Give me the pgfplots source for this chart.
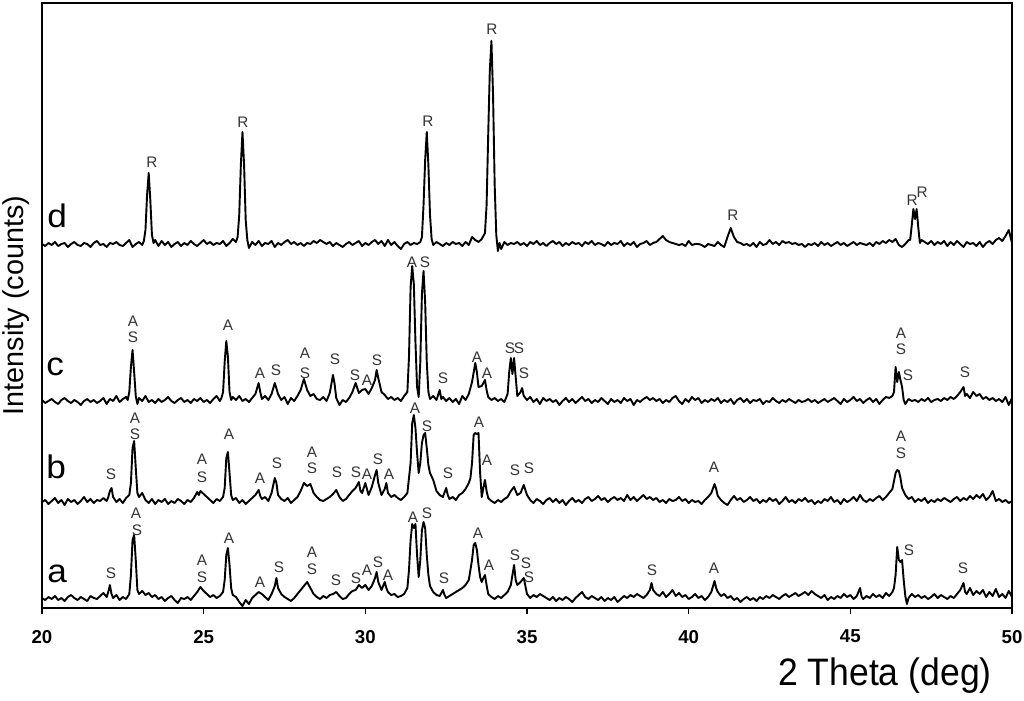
\documentclass[border=0pt]{standalone}
\usepackage{fontspec}
\setmainfont{Liberation Sans}
\newfontfamily\widefont[FakeStretch=1.08]{Liberation Sans}
\newfontfamily\xlabfont[FakeStretch=0.93]{Liberation Sans}
\usepackage{pgfplots}
\pgfplotsset{compat=1.18}

\tikzset{
    tr/.style={black, line width=0.85pt, line join=round, mark=none},
    pklab/.style={font=\fontsize{6.8}{7}\selectfont, text=black!80, inner sep=0pt},
    trlab/.style={font=\widefont\fontsize{14.5}{16}\selectfont, anchor=base west, inner sep=0pt},
}

% peak label, placed by picture pixel position (x px, y px)
\newcommand\pk[3]{\node[pklab] at (axis cs:{20+(#1-42)/32.333},{608-#2}) {#3};}
\newcommand\trace[3]{\node[trlab] at (axis cs:{20+(#1-42)/32.333},{608-#2}) {#3};}

\begin{document}
\begin{tikzpicture}
\useasboundingbox (-0.65625cm,-1.4375cm) rectangle (15.34375cm,9.5cm);
\begin{axis}[
    at={(0,0)}, anchor=south west,
    scale only axis, width=15.15625cm, height=9.453125cm,
    xmin=20, xmax=50, ymin=0, ymax=605,
    xtick={20,25,...,50}, ytick=\empty,
    xtick pos=bottom, tick align=outside,
    major tick length=0.09cm,
    axis line style={line width=1pt},
    every tick/.style={black, line width=0.6pt},
    /pgf/number format/assume math mode=true,
    xticklabel style={font=\fontsize{8.3}{10}\selectfont\bfseries, yshift=-0.13cm},
    xlabel={\xlabfont 2 Theta (deg)},
    xlabel style={font=\fontsize{17}{20}\selectfont, at={(axis description cs:0.869,-0.111)}, anchor=center},
    ylabel={Intensity (counts)},
    ylabel style={font=\fontsize{12.8}{15}\selectfont, at={(axis description cs:-0.027,0.5)}, anchor=center, rotate=0},
    clip=false,
]
% d
\addplot[tr] table[row sep=\\, y expr=\thisrowno{1}+363] {
20.0 1\\ 20.1 -1\\ 20.2 2\\ 20.3 0\\ 20.4 3\\ 20.5 -1\\ 20.6 1\\ 20.7 2\\ 20.8 -2\\ 20.9 1\\
21.0 3\\ 21.1 0\\ 21.2 -1\\ 21.3 2\\ 21.4 1\\ 21.5 -2\\ 21.6 2\\ 21.7 4\\ 21.8 0\\ 21.9 1\\
22.0 -2\\ 22.1 2\\ 22.2 1\\ 22.3 3\\ 22.4 0\\ 22.5 -1\\ 22.6 2\\ 22.7 5\\ 22.8 -2\\ 22.9 1\\
23.0 3\\ 23.1 0\\ 23.15 4\\ 23.2 15\\ 23.25 50\\ 23.3 72\\ 23.35 45\\ 23.4 10\\ 23.45 2\\ 23.5 5\\
23.6 -1\\ 23.7 4\\ 23.8 0\\ 23.9 3\\ 24.0 -2\\ 24.1 1\\ 24.2 3\\ 24.3 -1\\ 24.4 2\\ 24.5 0\\
24.6 4\\ 24.7 1\\ 24.8 -1\\ 24.9 2\\ 25.0 5\\ 25.1 1\\ 25.2 3\\ 25.3 0\\ 25.4 2\\ 25.5 1\\
25.6 4\\ 25.7 -1\\ 25.8 2\\ 25.9 6\\ 26.0 3\\ 26.05 8\\ 26.1 30\\ 26.15 80\\ 26.2 113\\ 26.25 80\\
26.3 25\\ 26.35 5\\ 26.4 -3\\ 26.5 3\\ 26.6 0\\ 26.7 4\\ 26.8 -1\\ 26.9 2\\ 27.0 1\\ 27.1 4\\
27.2 -2\\ 27.3 2\\ 27.4 0\\ 27.5 3\\ 27.6 5\\ 27.7 1\\ 27.8 3\\ 27.9 0\\ 28.0 2\\ 28.1 -1\\
28.2 2\\ 28.3 1\\ 28.4 4\\ 28.5 2\\ 28.6 5\\ 28.7 3\\ 28.8 1\\ 28.9 3\\ 29.0 -1\\ 29.1 2\\
29.2 0\\ 29.3 -2\\ 29.4 1\\ 29.5 3\\ 29.6 0\\ 29.7 2\\ 29.8 4\\ 29.9 -1\\ 30.0 2\\ 30.1 0\\
30.2 3\\ 30.3 5\\ 30.4 1\\ 30.5 4\\ 30.6 -1\\ 30.7 5\\ 30.8 0\\ 30.9 3\\ 31.0 -1\\ 31.1 -4\\
31.2 1\\ 31.3 3\\ 31.4 0\\ 31.5 2\\ 31.6 1\\ 31.7 3\\ 31.75 8\\ 31.8 40\\ 31.85 85\\ 31.9 113\\
31.95 80\\ 32.0 30\\ 32.05 6\\ 32.1 0\\ 32.2 3\\ 32.3 1\\ 32.4 -1\\ 32.5 2\\ 32.6 0\\ 32.7 3\\
32.8 1\\ 32.9 2\\ 33.0 -1\\ 33.1 3\\ 33.2 0\\ 33.3 8\\ 33.4 5\\ 33.5 3\\ 33.6 6\\ 33.7 12\\
33.75 40\\ 33.8 110\\ 33.85 175\\ 33.9 204\\ 33.95 150\\ 34.0 60\\ 34.05 10\\ 34.1 -6\\ 34.15 2\\ 34.2 -4\\
34.3 3\\ 34.4 0\\ 34.5 2\\ 34.6 1\\ 34.7 3\\ 34.8 0\\ 34.9 2\\ 35.0 -1\\ 35.1 3\\ 35.2 1\\
35.3 4\\ 35.4 0\\ 35.5 2\\ 35.6 -1\\ 35.7 2\\ 35.8 4\\ 35.9 1\\ 36.0 3\\ 36.1 -1\\ 36.2 2\\
36.3 0\\ 36.4 3\\ 36.5 1\\ 36.6 2\\ 36.7 -1\\ 36.8 3\\ 36.9 1\\ 37.0 4\\ 37.1 0\\ 37.2 2\\
37.3 1\\ 37.4 -1\\ 37.5 3\\ 37.6 0\\ 37.7 2\\ 37.8 1\\ 37.9 4\\ 38.0 -1\\ 38.1 2\\ 38.2 0\\
38.3 3\\ 38.4 -2\\ 38.5 1\\ 38.6 2\\ 38.7 4\\ 38.8 0\\ 38.9 2\\ 39.0 3\\ 39.1 6\\ 39.2 9\\
39.3 5\\ 39.4 3\\ 39.5 2\\ 39.6 1\\ 39.7 0\\ 39.8 1\\ 39.9 -1\\ 40.0 4\\ 40.1 0\\ 40.2 1\\
40.3 1\\ 40.4 0\\ 40.5 -2\\ 40.6 1\\ 40.7 0\\ 40.8 -1\\ 40.9 3\\ 41.0 0\\ 41.1 -2\\ 41.2 8\\
41.3 17\\ 41.4 8\\ 41.5 3\\ 41.6 2\\ 41.7 0\\ 41.8 1\\ 41.9 -1\\ 42.0 2\\ 42.1 -2\\ 42.2 3\\
42.3 0\\ 42.4 1\\ 42.5 5\\ 42.6 1\\ 42.7 3\\ 42.8 0\\ 42.9 4\\ 43.0 2\\ 43.1 3\\ 43.2 1\\
43.3 2\\ 43.4 0\\ 43.5 1\\ 43.6 -2\\ 43.7 1\\ 43.8 0\\ 43.9 2\\ 44.0 -1\\ 44.1 3\\ 44.2 0\\
44.3 2\\ 44.4 -1\\ 44.5 1\\ 44.6 3\\ 44.7 0\\ 44.8 2\\ 44.9 -1\\ 45.0 1\\ 45.1 3\\ 45.2 0\\
45.3 2\\ 45.4 1\\ 45.5 0\\ 45.6 2\\ 45.7 -1\\ 45.8 3\\ 45.9 1\\ 46.0 4\\ 46.1 2\\ 46.2 5\\
46.3 3\\ 46.4 6\\ 46.5 0\\ 46.6 -2\\ 46.7 1\\ 46.8 5\\ 46.85 5\\ 46.9 20\\ 46.95 36\\ 47.0 26\\
47.05 36\\ 47.1 18\\ 47.15 2\\ 47.2 5\\ 47.3 3\\ 47.4 1\\ 47.5 4\\ 47.6 0\\ 47.7 3\\ 47.8 1\\
47.9 4\\ 48.0 -1\\ 48.1 3\\ 48.2 0\\ 48.3 4\\ 48.4 1\\ 48.5 -2\\ 48.6 3\\ 48.7 1\\ 48.8 2\\
48.9 -1\\ 49.0 3\\ 49.1 -2\\ 49.2 2\\ 49.3 4\\ 49.4 1\\ 49.5 5\\ 49.6 7\\ 49.7 4\\ 49.8 9\\
49.9 15\\ 50.0 2\\
};
% c
\addplot[tr] table[row sep=\\, y expr=\thisrowno{1}+206] {
20.0 2\\ 20.1 -1\\ 20.2 1\\ 20.3 3\\ 20.4 0\\ 20.5 -2\\ 20.6 2\\ 20.7 4\\ 20.8 1\\ 20.9 -1\\
21.0 2\\ 21.1 0\\ 21.2 -3\\ 21.3 1\\ 21.4 3\\ 21.5 0\\ 21.6 2\\ 21.7 -1\\ 21.8 1\\ 21.9 4\\
22.0 -2\\ 22.1 3\\ 22.2 1\\ 22.3 6\\ 22.4 0\\ 22.5 3\\ 22.6 5\\ 22.65 2\\ 22.7 10\\ 22.75 35\\
22.8 52\\ 22.85 30\\ 22.9 6\\ 22.95 -2\\ 23.0 4\\ 23.1 1\\ 23.2 6\\ 23.3 0\\ 23.4 2\\ 23.5 -1\\
23.6 3\\ 23.7 0\\ 23.8 2\\ 23.9 5\\ 24.0 1\\ 24.1 -1\\ 24.2 2\\ 24.3 4\\ 24.4 0\\ 24.5 2\\
24.6 -1\\ 24.7 3\\ 24.8 1\\ 24.9 4\\ 25.0 0\\ 25.1 2\\ 25.2 -1\\ 25.3 3\\ 25.4 6\\ 25.5 1\\
25.55 4\\ 25.6 10\\ 25.65 40\\ 25.7 61\\ 25.75 45\\ 25.8 10\\ 25.85 2\\ 25.9 5\\ 26.0 2\\ 26.1 6\\
26.2 1\\ 26.3 3\\ 26.4 0\\ 26.5 4\\ 26.6 8\\ 26.7 19\\ 26.75 10\\ 26.8 3\\ 26.9 6\\ 27.0 2\\
27.1 8\\ 27.2 19\\ 27.3 8\\ 27.4 2\\ 27.5 5\\ 27.6 -2\\ 27.7 4\\ 27.8 1\\ 27.9 6\\ 28.0 12\\
28.1 23\\ 28.2 12\\ 28.3 6\\ 28.4 8\\ 28.5 3\\ 28.6 2\\ 28.7 5\\ 28.8 1\\ 28.9 9\\ 29.0 27\\
29.05 18\\ 29.1 4\\ 29.2 -3\\ 29.3 2\\ 29.4 0\\ 29.5 4\\ 29.6 10\\ 29.7 19\\ 29.8 9\\ 29.9 12\\
30.0 13\\ 30.1 8\\ 30.2 14\\ 30.3 22\\ 30.35 32\\ 30.4 24\\ 30.5 10\\ 30.6 7\\ 30.7 3\\ 30.8 5\\
30.9 2\\ 31.0 4\\ 31.1 1\\ 31.2 6\\ 31.3 10\\ 31.35 45\\ 31.4 115\\ 31.45 136\\ 31.5 118\\ 31.55 60\\
31.6 15\\ 31.65 5\\ 31.7 40\\ 31.75 108\\ 31.8 131\\ 31.85 100\\ 31.9 40\\ 31.95 10\\ 32.0 3\\ 32.1 6\\
32.2 2\\ 32.3 12\\ 32.35 3\\ 32.4 5\\ 32.5 1\\ 32.6 4\\ 32.7 0\\ 32.8 3\\ 32.9 -2\\ 33.0 6\\
33.1 2\\ 33.2 8\\ 33.3 20\\ 33.4 39\\ 33.45 30\\ 33.5 15\\ 33.6 16\\ 33.7 22\\ 33.75 12\\ 33.8 5\\
33.9 2\\ 34.0 4\\ 34.1 1\\ 34.2 3\\ 34.3 0\\ 34.4 8\\ 34.45 30\\ 34.5 44\\ 34.55 28\\ 34.6 44\\
34.65 25\\ 34.7 6\\ 34.8 10\\ 34.85 14\\ 34.9 6\\ 35.0 2\\ 35.1 5\\ 35.2 0\\ 35.3 3\\ 35.4 -2\\
35.5 4\\ 35.6 1\\ 35.7 3\\ 35.8 0\\ 35.9 2\\ 36.0 -3\\ 36.1 1\\ 36.2 4\\ 36.3 0\\ 36.4 3\\
36.5 -1\\ 36.6 2\\ 36.7 5\\ 36.8 1\\ 36.9 3\\ 37.0 -1\\ 37.1 2\\ 37.2 0\\ 37.3 4\\ 37.4 1\\
37.5 -2\\ 37.6 3\\ 37.7 0\\ 37.8 2\\ 37.9 -1\\ 38.0 4\\ 38.1 1\\ 38.2 3\\ 38.3 -3\\ 38.4 2\\
38.5 0\\ 38.6 3\\ 38.7 5\\ 38.8 2\\ 38.9 4\\ 39.0 1\\ 39.1 3\\ 39.2 -1\\ 39.3 2\\ 39.4 0\\
39.5 4\\ 39.6 6\\ 39.7 1\\ 39.8 -2\\ 39.9 3\\ 40.0 0\\ 40.1 5\\ 40.2 2\\ 40.3 4\\ 40.4 -1\\
40.5 2\\ 40.6 0\\ 40.7 3\\ 40.8 1\\ 40.9 4\\ 41.0 -1\\ 41.1 2\\ 41.2 0\\ 41.3 3\\ 41.4 -2\\
41.5 2\\ 41.6 4\\ 41.7 0\\ 41.8 3\\ 41.9 -1\\ 42.0 2\\ 42.1 1\\ 42.2 3\\ 42.3 -2\\ 42.4 1\\
42.5 0\\ 42.6 4\\ 42.7 1\\ 42.8 -1\\ 42.9 2\\ 43.0 0\\ 43.1 3\\ 43.2 1\\ 43.3 -1\\ 43.4 2\\
43.5 0\\ 43.6 1\\ 43.7 3\\ 43.8 0\\ 43.9 2\\ 44.0 -1\\ 44.1 1\\ 44.2 3\\ 44.3 0\\ 44.4 2\\
44.5 4\\ 44.6 1\\ 44.7 -2\\ 44.8 3\\ 44.9 0\\ 45.0 2\\ 45.1 5\\ 45.2 1\\ 45.3 3\\ 45.4 -1\\
45.5 2\\ 45.6 4\\ 45.7 0\\ 45.8 3\\ 45.9 -2\\ 46.0 2\\ 46.1 5\\ 46.2 4\\ 46.3 6\\ 46.35 10\\
46.4 35\\ 46.45 20\\ 46.5 30\\ 46.55 22\\ 46.6 15\\ 46.65 2\\ 46.7 -2\\ 46.8 3\\ 46.9 1\\ 47.0 2\\
47.1 0\\ 47.2 3\\ 47.3 1\\ 47.4 4\\ 47.5 0\\ 47.6 2\\ 47.7 3\\ 47.8 1\\ 47.9 4\\ 48.0 2\\
48.1 5\\ 48.2 3\\ 48.3 6\\ 48.4 10\\ 48.5 15\\ 48.55 6\\ 48.6 8\\ 48.7 4\\ 48.8 10\\ 48.9 6\\
49.0 8\\ 49.1 3\\ 49.2 5\\ 49.3 2\\ 49.4 4\\ 49.5 1\\ 49.6 3\\ 49.7 0\\ 49.8 5\\ 49.9 -3\\
50.0 4\\
};
% b
\addplot[tr] table[row sep=\\, y expr=\thisrowno{1}+105] {
20.0 1\\ 20.1 3\\ 20.2 -1\\ 20.3 2\\ 20.4 5\\ 20.5 0\\ 20.6 3\\ 20.7 -2\\ 20.8 4\\ 20.9 1\\
21.0 3\\ 21.1 -1\\ 21.2 2\\ 21.3 6\\ 21.4 1\\ 21.5 4\\ 21.6 0\\ 21.7 3\\ 21.8 2\\ 21.9 5\\
22.0 2\\ 22.05 6\\ 22.1 12\\ 22.15 15\\ 22.2 6\\ 22.3 1\\ 22.4 4\\ 22.5 0\\ 22.6 5\\ 22.7 8\\
22.75 20\\ 22.8 55\\ 22.85 62\\ 22.9 35\\ 22.95 10\\ 23.0 6\\ 23.1 10\\ 23.2 3\\ 23.3 0\\ 23.4 4\\
23.5 -1\\ 23.6 3\\ 23.7 1\\ 23.8 4\\ 23.9 -1\\ 24.0 2\\ 24.1 0\\ 24.2 4\\ 24.3 2\\ 24.4 -1\\
24.5 3\\ 24.6 1\\ 24.7 5\\ 24.8 11\\ 24.85 8\\ 24.9 12\\ 25.0 9\\ 25.1 6\\ 25.2 3\\ 25.3 0\\
25.4 4\\ 25.5 2\\ 25.6 6\\ 25.65 15\\ 25.7 45\\ 25.75 51\\ 25.8 30\\ 25.85 8\\ 25.9 3\\ 26.0 5\\
26.1 0\\ 26.2 3\\ 26.3 -1\\ 26.4 2\\ 26.5 5\\ 26.6 8\\ 26.7 13\\ 26.75 7\\ 26.8 4\\ 26.9 6\\
27.0 2\\ 27.1 10\\ 27.2 25\\ 27.25 20\\ 27.3 8\\ 27.4 4\\ 27.5 2\\ 27.6 5\\ 27.7 0\\ 27.8 3\\
27.9 6\\ 28.0 12\\ 28.1 20\\ 28.2 17\\ 28.3 19\\ 28.4 10\\ 28.5 6\\ 28.6 3\\ 28.7 2\\ 28.8 4\\
28.9 6\\ 29.0 9\\ 29.1 13\\ 29.2 6\\ 29.3 2\\ 29.4 4\\ 29.5 8\\ 29.6 12\\ 29.7 15\\ 29.8 21\\
29.85 12\\ 29.9 10\\ 30.0 20\\ 30.1 8\\ 30.2 16\\ 30.3 28\\ 30.35 33\\ 30.4 20\\ 30.5 8\\ 30.6 14\\
30.65 20\\ 30.7 10\\ 30.8 6\\ 30.9 8\\ 31.0 5\\ 31.1 3\\ 31.2 6\\ 31.3 10\\ 31.4 40\\ 31.45 80\\
31.5 88\\ 31.55 75\\ 31.6 50\\ 31.65 30\\ 31.7 40\\ 31.75 60\\ 31.8 68\\ 31.85 70\\ 31.9 55\\ 31.95 38\\
32.0 30\\ 32.1 23\\ 32.2 12\\ 32.3 8\\ 32.4 6\\ 32.5 15\\ 32.55 8\\ 32.6 4\\ 32.7 6\\ 32.8 3\\
32.9 8\\ 33.0 10\\ 33.1 14\\ 33.2 20\\ 33.25 25\\ 33.3 40\\ 33.35 68\\ 33.4 70\\ 33.45 69\\ 33.5 70\\
33.55 30\\ 33.6 6\\ 33.65 15\\ 33.7 23\\ 33.75 12\\ 33.8 5\\ 33.9 2\\ 34.0 0\\ 34.1 3\\ 34.2 1\\
34.3 4\\ 34.4 6\\ 34.5 12\\ 34.6 16\\ 34.7 8\\ 34.8 10\\ 34.9 18\\ 35.0 8\\ 35.1 3\\ 35.2 0\\
35.3 4\\ 35.4 2\\ 35.5 -1\\ 35.6 3\\ 35.7 5\\ 35.8 1\\ 35.9 4\\ 36.0 0\\ 36.1 3\\ 36.2 -2\\
36.3 2\\ 36.4 5\\ 36.5 1\\ 36.6 3\\ 36.7 0\\ 36.8 4\\ 36.9 6\\ 37.0 2\\ 37.1 4\\ 37.2 7\\
37.3 3\\ 37.4 5\\ 37.5 1\\ 37.6 4\\ 37.7 6\\ 37.8 3\\ 37.9 5\\ 38.0 2\\ 38.1 8\\ 38.2 3\\
38.3 6\\ 38.4 2\\ 38.5 5\\ 38.6 8\\ 38.7 4\\ 38.8 6\\ 38.9 3\\ 39.0 5\\ 39.1 1\\ 39.2 3\\
39.3 0\\ 39.4 4\\ 39.5 2\\ 39.6 3\\ 39.7 6\\ 39.8 2\\ 39.9 4\\ 40.0 0\\ 40.1 3\\ 40.2 1\\
40.3 2\\ 40.4 -1\\ 40.5 3\\ 40.6 6\\ 40.7 10\\ 40.8 19\\ 40.85 14\\ 40.9 7\\ 41.0 3\\ 41.1 0\\
41.2 -2\\ 41.3 3\\ 41.4 7\\ 41.5 3\\ 41.6 5\\ 41.7 1\\ 41.8 3\\ 41.9 6\\ 42.0 2\\ 42.1 4\\
42.2 0\\ 42.3 3\\ 42.4 1\\ 42.5 5\\ 42.6 2\\ 42.7 4\\ 42.8 -1\\ 42.9 2\\ 43.0 6\\ 43.1 1\\
43.2 3\\ 43.3 0\\ 43.4 4\\ 43.5 2\\ 43.6 5\\ 43.7 1\\ 43.8 3\\ 43.9 -1\\ 44.0 2\\ 44.1 0\\
44.2 4\\ 44.3 2\\ 44.4 6\\ 44.5 1\\ 44.6 3\\ 44.7 -1\\ 44.8 4\\ 44.9 1\\ 45.0 3\\ 45.1 6\\
45.2 2\\ 45.3 8\\ 45.4 3\\ 45.5 1\\ 45.6 4\\ 45.7 2\\ 45.8 5\\ 45.9 7\\ 46.0 3\\ 46.1 6\\
46.2 10\\ 46.3 14\\ 46.35 22\\ 46.4 30\\ 46.45 33\\ 46.5 32\\ 46.55 25\\ 46.6 15\\ 46.7 8\\ 46.8 4\\
46.9 6\\ 47.0 1\\ 47.1 4\\ 47.2 2\\ 47.3 5\\ 47.4 0\\ 47.5 3\\ 47.6 1\\ 47.7 4\\ 47.8 2\\
47.9 5\\ 48.0 3\\ 48.1 1\\ 48.2 4\\ 48.3 6\\ 48.4 2\\ 48.5 5\\ 48.6 3\\ 48.7 7\\ 48.8 4\\
48.9 8\\ 49.0 5\\ 49.1 9\\ 49.2 3\\ 49.3 6\\ 49.4 12\\ 49.5 2\\ 49.6 4\\ 49.7 1\\ 49.8 3\\
49.9 0\\ 50.0 2\\
};
% a
\addplot[tr] table[row sep=\\, y expr=\thisrowno{1}+8] {
20.0 2\\ 20.1 0\\ 20.2 3\\ 20.3 1\\ 20.4 4\\ 20.5 0\\ 20.6 2\\ 20.7 -1\\ 20.8 3\\ 20.9 5\\
21.0 2\\ 21.1 0\\ 21.2 3\\ 21.3 1\\ 21.4 -1\\ 21.5 4\\ 21.6 2\\ 21.7 1\\ 21.8 4\\ 21.9 7\\
22.0 3\\ 22.05 8\\ 22.1 15\\ 22.15 6\\ 22.2 2\\ 22.3 5\\ 22.4 0\\ 22.5 3\\ 22.6 1\\ 22.7 6\\
22.75 25\\ 22.8 60\\ 22.85 65\\ 22.9 40\\ 22.95 10\\ 23.0 6\\ 23.1 9\\ 23.2 5\\ 23.3 7\\ 23.4 3\\
23.5 5\\ 23.6 1\\ 23.7 3\\ 23.8 -1\\ 23.9 2\\ 24.0 4\\ 24.1 0\\ 24.2 -3\\ 24.3 2\\ 24.4 1\\
24.5 3\\ 24.6 0\\ 24.7 4\\ 24.8 8\\ 24.9 13\\ 25.0 9\\ 25.1 6\\ 25.2 3\\ 25.3 5\\ 25.4 2\\
25.5 4\\ 25.6 8\\ 25.65 20\\ 25.7 45\\ 25.75 52\\ 25.8 35\\ 25.85 12\\ 25.9 5\\ 26.0 3\\ 26.1 -2\\
26.2 -6\\ 26.3 0\\ 26.4 -4\\ 26.5 2\\ 26.6 5\\ 26.7 8\\ 26.8 6\\ 26.9 3\\ 27.0 0\\ 27.1 6\\
27.2 14\\ 27.25 22\\ 27.3 12\\ 27.4 6\\ 27.5 3\\ 27.6 1\\ 27.7 -1\\ 27.8 2\\ 27.9 6\\ 28.0 10\\
28.1 14\\ 28.2 18\\ 28.3 12\\ 28.4 6\\ 28.5 3\\ 28.6 1\\ 28.7 4\\ 28.8 2\\ 28.9 5\\ 29.0 6\\
29.1 8\\ 29.2 4\\ 29.3 1\\ 29.4 2\\ 29.5 6\\ 29.6 9\\ 29.7 10\\ 29.8 15\\ 29.9 12\\ 30.0 15\\
30.1 10\\ 30.2 14\\ 30.3 22\\ 30.35 28\\ 30.4 18\\ 30.5 10\\ 30.6 18\\ 30.65 12\\ 30.7 8\\ 30.8 5\\
30.9 6\\ 31.0 3\\ 31.1 4\\ 31.2 6\\ 31.3 12\\ 31.35 30\\ 31.4 60\\ 31.45 76\\ 31.5 72\\ 31.55 76\\
31.6 45\\ 31.65 23\\ 31.7 40\\ 31.75 70\\ 31.8 78\\ 31.85 72\\ 31.9 45\\ 31.95 25\\ 32.0 14\\ 32.1 8\\
32.2 5\\ 32.3 4\\ 32.4 10\\ 32.45 5\\ 32.5 2\\ 32.6 4\\ 32.7 6\\ 32.8 8\\ 32.9 10\\ 33.0 12\\
33.1 15\\ 33.2 20\\ 33.3 40\\ 33.35 55\\ 33.4 57\\ 33.45 50\\ 33.5 35\\ 33.55 23\\ 33.6 18\\ 33.65 22\\
33.7 25\\ 33.75 15\\ 33.8 6\\ 33.9 3\\ 34.0 1\\ 34.1 4\\ 34.2 2\\ 34.3 5\\ 34.4 8\\ 34.5 15\\
34.55 25\\ 34.6 35\\ 34.65 20\\ 34.7 15\\ 34.8 18\\ 34.85 20\\ 34.9 22\\ 34.95 14\\ 35.0 6\\ 35.1 2\\
35.2 5\\ 35.3 3\\ 35.4 6\\ 35.5 4\\ 35.6 2\\ 35.7 0\\ 35.8 3\\ 35.9 -1\\ 36.0 2\\ 36.1 0\\
36.2 3\\ 36.3 1\\ 36.4 -2\\ 36.5 2\\ 36.6 5\\ 36.7 8\\ 36.8 3\\ 36.9 1\\ 37.0 4\\ 37.1 2\\
37.2 0\\ 37.3 3\\ 37.4 -1\\ 37.5 2\\ 37.6 0\\ 37.7 3\\ 37.8 -2\\ 37.9 1\\ 38.0 4\\ 38.1 2\\
38.2 5\\ 38.3 3\\ 38.4 6\\ 38.5 4\\ 38.6 2\\ 38.7 5\\ 38.8 10\\ 38.85 17\\ 38.9 10\\ 39.0 6\\
39.1 4\\ 39.2 8\\ 39.3 3\\ 39.4 6\\ 39.5 10\\ 39.6 4\\ 39.7 7\\ 39.8 3\\ 39.9 5\\ 40.0 1\\
40.1 3\\ 40.2 6\\ 40.3 2\\ 40.4 4\\ 40.5 0\\ 40.6 3\\ 40.7 8\\ 40.8 19\\ 40.85 12\\ 40.9 8\\
41.0 4\\ 41.1 6\\ 41.2 2\\ 41.3 4\\ 41.4 0\\ 41.5 2\\ 41.6 -2\\ 41.7 1\\ 41.8 3\\ 41.9 0\\
42.0 2\\ 42.1 -1\\ 42.2 3\\ 42.3 1\\ 42.4 4\\ 42.5 2\\ 42.6 5\\ 42.7 3\\ 42.8 1\\ 42.9 4\\
43.0 6\\ 43.1 3\\ 43.2 5\\ 43.3 7\\ 43.4 4\\ 43.5 6\\ 43.6 8\\ 43.7 5\\ 43.8 9\\ 43.9 6\\
44.0 4\\ 44.1 2\\ 44.2 5\\ 44.3 0\\ 44.4 3\\ 44.5 1\\ 44.6 4\\ 44.7 2\\ 44.8 6\\ 44.9 3\\
45.0 5\\ 45.1 1\\ 45.2 4\\ 45.3 12\\ 45.35 3\\ 45.4 1\\ 45.5 4\\ 45.6 2\\ 45.7 6\\ 45.8 3\\
45.9 5\\ 46.0 2\\ 46.1 7\\ 46.2 4\\ 46.3 8\\ 46.35 12\\ 46.4 25\\ 46.45 53\\ 46.5 40\\ 46.55 38\\
46.6 40\\ 46.65 20\\ 46.7 4\\ 46.75 -4\\ 46.8 2\\ 46.9 6\\ 47.0 3\\ 47.1 5\\ 47.2 2\\ 47.3 4\\
47.4 1\\ 47.5 3\\ 47.6 6\\ 47.7 2\\ 47.8 5\\ 47.9 3\\ 48.0 1\\ 48.1 4\\ 48.2 2\\ 48.3 6\\
48.4 10\\ 48.5 17\\ 48.55 8\\ 48.6 6\\ 48.7 12\\ 48.8 5\\ 48.9 9\\ 49.0 6\\ 49.1 10\\ 49.2 3\\
49.3 8\\ 49.4 4\\ 49.5 11\\ 49.6 3\\ 49.7 6\\ 49.8 2\\ 49.9 9\\ 50.0 3\\
};
% trace letters
\trace{47}{228}{d}
\trace{46}{375}{c}
\trace{46}{478}{b}
\trace{47}{582}{a}
% d peaks
\pk{152}{162}{R} \pk{243}{122}{R} \pk{428}{121}{R} \pk{492}{29}{R}
\pk{733}{215}{R} \pk{912}{200}{R} \pk{922}{192}{R}
% c peaks
\pk{133}{321}{A} \pk{133}{337}{S} \pk{228}{325}{A} \pk{260}{373}{A}
\pk{276}{370}{S} \pk{305}{353}{A} \pk{305}{373}{S} \pk{335}{359}{S}
\pk{355}{375}{S} \pk{367}{380}{A} \pk{377}{360}{S} \pk{412}{262}{A}
\pk{425}{262}{S} \pk{443}{378}{S} \pk{477}{357}{A} \pk{487}{373}{A}
\pk{510}{348}{S} \pk{519}{348}{S} \pk{524}{373}{S} \pk{901}{333}{A}
\pk{901}{349}{S} \pk{908}{375}{S} \pk{965}{372}{S}
% b peaks
\pk{111}{474}{S} \pk{135}{418}{A} \pk{135}{434}{S} \pk{202}{459}{A}
\pk{202}{477}{S} \pk{229}{434}{A} \pk{260}{478}{A} \pk{277}{463}{S}
\pk{312}{452}{A} \pk{312}{468}{S} \pk{337}{472}{S} \pk{356}{472}{S}
\pk{367}{474}{A} \pk{378}{459}{S} \pk{389}{474}{A} \pk{415}{408}{A}
\pk{427}{426}{S} \pk{448}{473}{S} \pk{479}{422}{A} \pk{487}{460}{A}
\pk{515}{470}{S} \pk{529}{468}{S} \pk{714}{467}{A} \pk{901}{436}{A}
\pk{901}{453}{S}
% a peaks
\pk{111}{573}{S} \pk{136}{513}{A} \pk{137}{530}{S} \pk{202}{560}{A}
\pk{202}{577}{S} \pk{229}{538}{A} \pk{260}{582}{A} \pk{279}{567}{S}
\pk{312}{552}{A} \pk{312}{569}{S} \pk{336}{580}{S} \pk{356}{578}{S}
\pk{367}{570}{A} \pk{378}{562}{S} \pk{388}{575}{A} \pk{413}{517}{A}
\pk{427}{513}{S} \pk{444}{578}{S} \pk{478}{533}{A} \pk{489}{565}{A}
\pk{515}{555}{S} \pk{526}{563}{S} \pk{529}{577}{S} \pk{652}{570}{S}
\pk{714}{568}{A} \pk{909}{550}{S} \pk{963}{568}{S}
\end{axis}
\end{tikzpicture}
\end{document}
